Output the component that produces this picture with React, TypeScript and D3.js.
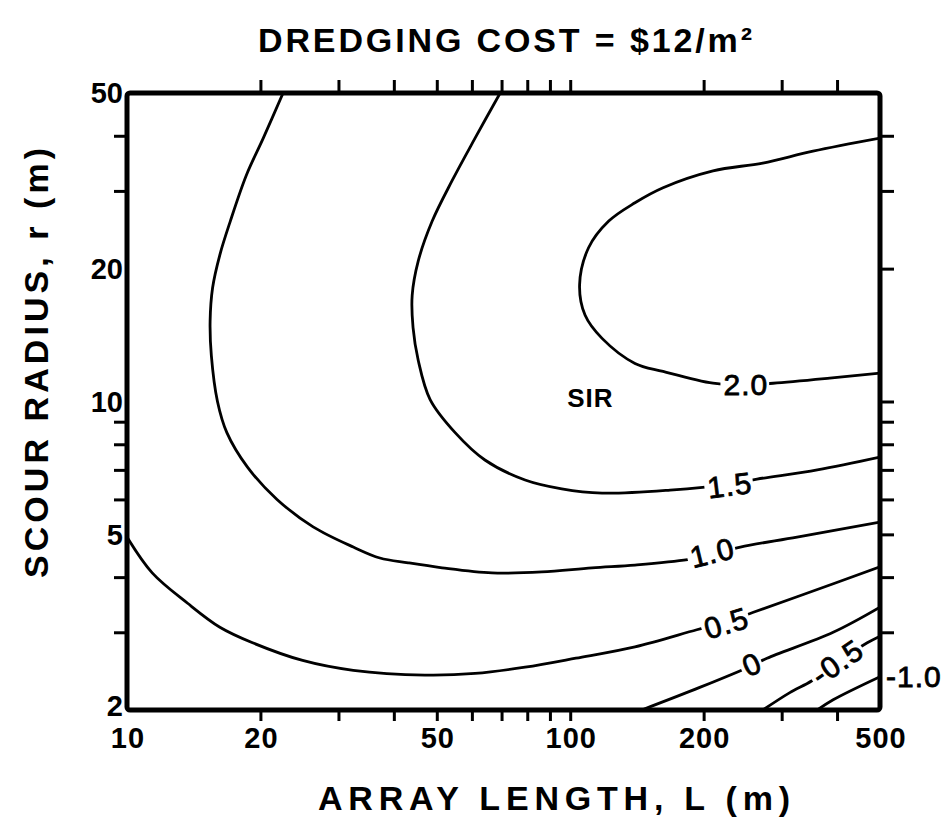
import { useEffect, useRef } from "react";
import * as d3 from "d3";

type Pt = [number, number]; // [array length L (m), scour radius r (m)]

const levels = ["2.0", "1.5", "1.0", "0.5", "0", "-0.5", "-1.0"];

const sir20: Pt[] = [
  [500, 39.5], [353, 36.9], [272, 34.7], [210, 33.3], [162, 30.5], [140, 28.2],
  [122, 25.6], [110, 22.3], [105, 18.4], [108, 15.7], [118, 13.9], [140, 12.2],
  [162, 11.7], [210, 11.0], [249, 10.9], [287, 11.0], [385, 11.3], [500, 11.6],
];
const sir15: Pt[] = [
  [69.5, 50], [61.0, 39.5], [54.1, 31.6], [48.8, 25.6], [45.4, 20.8], [44.0, 17.4],
  [44.2, 14.7], [45.4, 12.4], [48.3, 10.1], [55.0, 8.5], [64.2, 7.37], [79.1, 6.64],
  [95.7, 6.34], [118, 6.2], [168, 6.3], [229, 6.5], [264, 6.67], [361, 7.0], [500, 7.48],
];
const sir10: Pt[] = [
  [22.5, 50], [20.3, 39.5], [18.6, 32.6], [17.1, 25.6], [16.2, 21.5], [15.6, 18.1],
  [15.4, 15.2], [15.5, 12.7], [16.0, 10.0], [16.8, 8.5], [18.7, 7.1], [21.8, 6.0],
  [26.3, 5.2], [32.4, 4.68], [37.2, 4.42], [43.1, 4.31], [51.4, 4.2], [66.6, 4.09],
  [86.3, 4.11], [112, 4.2], [140, 4.26], [184, 4.38], [209, 4.5], [242, 4.68],
  [325, 4.93], [500, 5.33],
];
const sir05: Pt[] = [
  [10, 4.93], [11.4, 4.09], [13.7, 3.49], [16.2, 3.08], [19.2, 2.84], [24.9, 2.59],
  [32.4, 2.46], [47.0, 2.4], [61.0, 2.42], [79.1, 2.5], [103, 2.62], [140, 2.78],
  [193, 3.04], [225, 3.17], [259, 3.33], [325, 3.61], [500, 4.22],
];
const sir00: Pt[] = [
  [145, 2], [196, 2.25], [257, 2.52], [278, 2.62], [392, 3.0], [500, 3.42],
];
const sirM05: Pt[] = [
  [272, 2], [313, 2.19], [351, 2.33], [400, 2.57], [468, 2.84], [500, 2.94],
];
const sirM10: Pt[] = [
  [361, 2], [392, 2.11], [500, 2.38],
];

const contours = [sir20, sir15, sir10, sir05, sir00, sirM05, sirM10];

// label anchors on each contour (null = written outside the frame at the line end)
const labelAt: (Pt | null)[] = [
  [249, 10.96], [229, 6.47], [209, 4.55], [225, 3.15], [257, 2.54], [400, 2.57], null,
];

const sirNote: Pt = [111, 10.2];

const xLabels = [10, 20, 50, 100, 200, 500];
const xTicks = [20, 30, 40, 50, 60, 70, 80, 90, 100, 200, 300, 400];
const yLabels = [2, 5, 10, 20, 50];
const yLeftTicks = [3, 4, 6, 7, 8, 9, 30, 40];
const yRightTicks = [3, 4, 5, 6, 7, 8, 9, 10, 20, 30, 40];

const W = 952;
const H = 817;
const margin = { top: 93, right: 72, bottom: 107, left: 127 };
const font = "'Liberation Sans', Arial, Helvetica, sans-serif";

const App = () => {
  const svgRef = useRef<SVGSVGElement | null>(null);

  useEffect(() => {
    if (!svgRef.current) return;
    const svg = d3.select(svgRef.current);
    svg.selectAll("*").remove();

    const x = d3.scaleLog().domain([10, 500]).range([margin.left, W - margin.right]);
    const y = d3.scaleLog().domain([2, 50]).range([H - margin.bottom, margin.top]);

    svg
      .append("defs")
      .append("clipPath")
      .attr("id", "plot-clip")
      .append("rect")
      .attr("x", x(10))
      .attr("y", y(50))
      .attr("width", x(500) - x(10))
      .attr("height", y(2) - y(50));

    const line = d3
      .line<Pt>()
      .x((d) => x(d[0]))
      .y((d) => y(d[1]))
      .curve(d3.curveCatmullRom.alpha(0.5));

    const g = svg.append("g").attr("clip-path", "url(#plot-clip)");
    contours.forEach((c) => {
      g.append("path")
        .attr("d", line(c))
        .attr("fill", "none")
        .attr("stroke", "#000")
        .attr("stroke-width", 2.8);
    });

    // contour labels, turned along the line, with a white gap cut in the line
    contours.forEach((c, i) => {
      const at = labelAt[i];
      if (!at) {
        const end = c[c.length - 1];
        svg
          .append("text")
          .attr("x", x(end[0]) + 6)
          .attr("y", y(end[1]))
          .attr("dy", "0.36em")
          .attr("font-family", font)
          .attr("font-size", 30)
          .attr("letter-spacing", 1)
          .attr("stroke", "#000")
          .attr("stroke-width", 0.8)
          .text(levels[i]);
        return;
      }
      const px = x(at[0]);
      const py = y(at[1]);
      let k = 0;
      let best = Infinity;
      c.forEach((p, j) => {
        const dd = (x(p[0]) - px) ** 2 + (y(p[1]) - py) ** 2;
        if (dd < best) {
          best = dd;
          k = j;
        }
      });
      const a = c[Math.max(0, k - 1)];
      const b = c[Math.min(c.length - 1, k + 1)];
      const ang = (Math.atan2(y(b[1]) - y(a[1]), x(b[0]) - x(a[0])) * 180) / Math.PI;
      const lg = svg.append("g").attr("transform", `translate(${px},${py}) rotate(${ang})`);
      const t = lg
        .append("text")
        .attr("text-anchor", "middle")
        .attr("dy", "0.36em")
        .attr("font-family", font)
        .attr("font-size", 30)
        .attr("letter-spacing", 1)
        .attr("fill", "#000")
        .attr("stroke", "#000")
        .attr("stroke-width", 0.8)
        .text(levels[i]);
      const bb = (t.node() as SVGTextElement).getBBox();
      lg.insert("rect", "text")
        .attr("x", bb.x - 3)
        .attr("y", -11)
        .attr("width", bb.width + 4)
        .attr("height", 22)
        .attr("fill", "#fff");
    });

    svg
      .append("text")
      .attr("x", x(sirNote[0]))
      .attr("y", y(sirNote[1]))
      .attr("dy", "0.36em")
      .attr("text-anchor", "middle")
      .attr("font-family", font)
      .attr("font-weight", 700)
      .attr("font-size", 26)
      .attr("letter-spacing", 1)
      .text("SIR");

    // frame
    svg
      .append("rect")
      .attr("x", x(10))
      .attr("y", y(50))
      .attr("width", x(500) - x(10))
      .attr("height", y(2) - y(50))
      .attr("rx", 3)
      .attr("fill", "none")
      .attr("stroke", "#000")
      .attr("stroke-width", 5);

    const tickStyle = (sel: d3.Selection<SVGGElement, unknown, null, undefined>) => {
      sel.select(".domain").remove();
      sel.selectAll("line").attr("stroke", "#000").attr("stroke-width", 3);
    };

    svg
      .append("g")
      .attr("transform", `translate(0,${y(50)})`)
      .call(d3.axisTop(x).tickValues(xTicks).tickSize(13).tickFormat(() => ""))
      .call(tickStyle);
    svg
      .append("g")
      .attr("transform", `translate(0,${y(2)})`)
      .call(d3.axisBottom(x).tickValues(xTicks).tickSize(11).tickFormat(() => ""))
      .call(tickStyle);
    svg
      .append("g")
      .attr("transform", `translate(${x(10)},0)`)
      .call(d3.axisLeft(y).tickValues(yLeftTicks).tickSize(13).tickFormat(() => ""))
      .call(tickStyle);
    svg
      .append("g")
      .attr("transform", `translate(${x(500)},0)`)
      .call(d3.axisRight(y).tickValues(yRightTicks).tickSize(14).tickFormat(() => ""))
      .call(tickStyle);

    // tick labels
    svg
      .append("g")
      .selectAll("text")
      .data(xLabels)
      .join("text")
      .attr("x", (d) => x(d) + 1)
      .attr("y", y(2) + 38)
      .attr("text-anchor", "middle")
      .attr("font-family", font)
      .attr("font-weight", 700)
      .attr("font-size", 29)
      .attr("letter-spacing", 1)
      .text((d) => d);
    svg
      .append("g")
      .selectAll("text")
      .data(yLabels)
      .join("text")
      .attr("x", x(10) - 4)
      .attr("y", (d) => y(d) - (d === 2 ? 4 : 0))
      .attr("dy", "0.35em")
      .attr("text-anchor", "end")
      .attr("font-family", font)
      .attr("font-weight", 700)
      .attr("font-size", 29)
      .text((d) => d);

    // titles
    svg
      .append("text")
      .attr("x", 505)
      .attr("y", 52)
      .attr("text-anchor", "middle")
      .attr("font-family", font)
      .attr("font-weight", 700)
      .attr("font-size", 34)
      .attr("textLength", 494)
      .attr("lengthAdjust", "spacing")
      .text("DREDGING COST = $12/m²");
    svg
      .append("text")
      .attr("x", 554)
      .attr("y", 810)
      .attr("text-anchor", "middle")
      .attr("font-family", font)
      .attr("font-weight", 700)
      .attr("font-size", 34)
      .attr("textLength", 472)
      .attr("lengthAdjust", "spacing")
      .text("ARRAY LENGTH, L (m)");
    svg
      .append("text")
      .attr("transform", "translate(48,363) rotate(-90)")
      .attr("text-anchor", "middle")
      .attr("font-family", font)
      .attr("font-weight", 700)
      .attr("font-size", 34)
      .attr("textLength", 430)
      .attr("lengthAdjust", "spacing")
      .text("SCOUR RADIUS, r (m)");
  }, []);

  return (
    <svg
      ref={svgRef}
      width={W}
      height={H}
      style={{ position: "absolute", left: 0, top: 0, background: "#fff" }}
    ></svg>
  );
};

export default App;
